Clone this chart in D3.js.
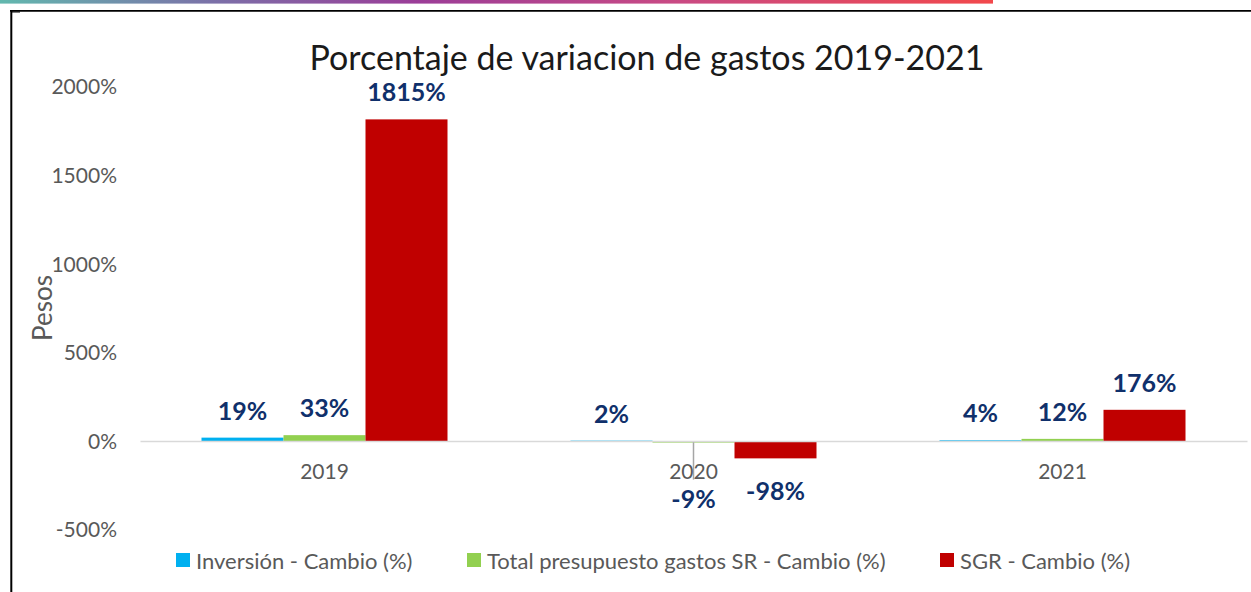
<!DOCTYPE html>
<html>
<head>
<meta charset="utf-8">
<script src="https://cdn.jsdelivr.net/npm/d3@7"></script>
<style>
  html, body { margin: 0; padding: 0; background: #fff; }
  svg { display: block; }
  text { font-family: Lato, "Open Sans", sans-serif; }
</style>
</head>
<body>
<svg id="chart" width="1251" height="592"></svg>
<script>
// Years on the category axis
const categories = ["2019", "2020", "2021"];
// Series names (legend order)
const seriesNames = [
  "Inversión - Cambio (%)",
  "Total presupuesto gastos SR - Cambio (%)",
  "SGR - Cambio (%)"
];
// Percentage change per year, one array per series
const inversion = [19, 2, 4];
const totalSR = [33, -9, 12];
const sgr = [1815, -98, 176];
// Y axis ticks
const yTicks = [-500, 0, 500, 1000, 1500, 2000];

const seriesValues = [inversion, totalSR, sgr];
const colors = ["#00b0f0", "#92d050", "#c00000"];

const W = 1251, H = 592;
const svg = d3.select("#chart");

// Decorative header strip and frame
const defs = svg.append("defs");
const grad = defs.append("linearGradient").attr("id", "topStrip")
  .attr("x1", "0%").attr("x2", "100%").attr("y1", "0%").attr("y2", "0%");
[[0, "#62b8ae"], [0.22, "#7c6fa8"], [0.42, "#9b3d98"], [0.68, "#c94a84"], [1, "#f2484b"]]
  .forEach(([o, c]) => grad.append("stop").attr("offset", o).attr("stop-color", c));
svg.append("rect").attr("x", 0).attr("y", 0).attr("width", 993).attr("height", 3.6)
  .attr("fill", "url(#topStrip)");
svg.append("line").attr("x1", 10).attr("x2", W).attr("y1", 10.9).attr("y2", 10.9)
  .attr("stroke", "#000").attr("stroke-width", 1.6);
svg.append("line").attr("x1", 11.3).attr("x2", 11.3).attr("y1", 10).attr("y2", H)
  .attr("stroke", "#000").attr("stroke-width", 2);
svg.append("rect").attr("x", 12).attr("y", 11.5).attr("width", 8).attr("height", 1)
  .attr("fill", "#000");

// Scales
const x0 = d3.scaleBand().domain(categories).range([140, 1247]).paddingInner(0).paddingOuter(0);
const x1 = d3.scaleBand().domain(d3.range(seriesNames.length)).range([0, x0.bandwidth()])
  .paddingInner(0).paddingOuter(0.75);
const y = d3.scaleLinear().domain([-500, 2000]).range([529.6, 86.6]);

// Title
svg.append("text").attr("x", 647).attr("y", 56).attr("text-anchor", "middle")
  .attr("dominant-baseline", "central")
  .attr("font-size", 34).attr("fill", "#1a1a1a")
  .text("Porcentaje de variacion de gastos 2019-2021");

// Y axis (labels only)
const yAxis = d3.axisLeft(y).tickValues(yTicks).tickSize(0).tickPadding(0)
  .tickFormat(d => d + "%");
const gy = svg.append("g").attr("transform", "translate(117,0)").call(yAxis);
gy.select(".domain").remove();
gy.selectAll("text").attr("font-size", 21).attr("fill", "#595959")
  .attr("font-family", "Lato, 'Open Sans', sans-serif").attr("dy", "0.35em").attr("x", 0);

// Y axis title
svg.append("text").attr("transform", "translate(42,308) rotate(-90)")
  .attr("text-anchor", "middle").attr("dominant-baseline", "central")
  .attr("font-size", 26).attr("fill", "#595959").text("Pesos");

// Bars
const groups = svg.append("g").selectAll("g").data(categories).join("g")
  .attr("transform", d => `translate(${x0(d)},0)`);
groups.selectAll("rect")
  .data((c, ci) => seriesValues.map((vals, si) => ({ si, v: vals[ci] })))
  .join("rect")
  .attr("x", d => x1(d.si))
  .attr("width", x1.bandwidth())
  .attr("y", d => Math.min(y(d.v), y(0)))
  .attr("height", d => Math.abs(y(d.v) - y(0)))
  .attr("fill", d => colors[d.si]);

// Category axis line and labels
const xAxis = d3.axisBottom(x0).tickSize(0).tickPadding(0);
const gx = svg.append("g").attr("transform", `translate(0,${y(0)})`).call(xAxis);
gx.select(".domain").attr("stroke", "#d9d9d9").attr("stroke-width", 1.6);
gx.selectAll("text").attr("font-size", 21).attr("fill", "#595959")
  .attr("font-family", "Lato, 'Open Sans', sans-serif").attr("y", 31).attr("dy", "0.35em");

// Data labels; the 2020 total-budget label sits lower, joined by a leader line
const labelNudge = { "1-1": 23 };
const labels = [];
categories.forEach((c, ci) => seriesValues.forEach((vals, si) => {
  const v = vals[ci];
  const cx = x0(c) + x1(si) + x1.bandwidth() / 2;
  let cy = v >= 0 ? y(v) - 28 : y(v) + 32;
  const nudge = labelNudge[`${ci}-${si}`] || 0;
  labels.push({ v, cx, cy: cy + nudge, nudge });
}));
svg.append("g").selectAll("line").data(labels.filter(d => d.nudge)).join("line")
  .attr("x1", d => d.cx).attr("x2", d => d.cx)
  .attr("y1", y(0) + 1).attr("y2", d => d.cy - 18)
  .attr("stroke", "#a6a6a6").attr("stroke-width", 1.5);
gx.raise();
svg.append("g").selectAll("text").data(labels).join("text")
  .attr("x", d => d.cx).attr("y", d => d.cy)
  .attr("text-anchor", "middle").attr("dominant-baseline", "central")
  .attr("font-size", 25).attr("font-weight", 700).attr("fill", "#10306b")
  .text(d => d.v + "%");

// Legend
const legendX = [176, 467, 940];
const lg = svg.append("g").selectAll("g").data(seriesNames).join("g")
  .attr("transform", (d, i) => `translate(${legendX[i]},553)`);
lg.append("rect").attr("width", 14).attr("height", 14).attr("fill", (d, i) => colors[i]);
lg.append("text").attr("x", 20).attr("y", 7).attr("dominant-baseline", "central")
  .attr("font-size", 22).attr("fill", "#595959").text(d => d);
</script>
</body>
</html>
